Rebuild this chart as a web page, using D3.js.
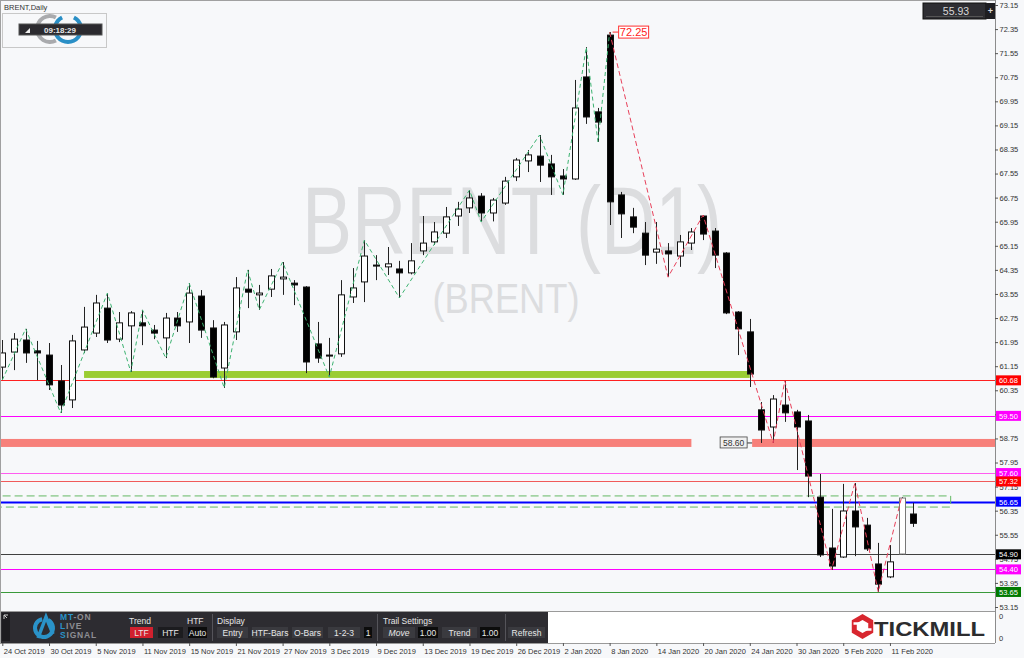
<!DOCTYPE html>
<html><head><meta charset="utf-8">
<script src="https://cdn.jsdelivr.net/npm/d3@7/dist/d3.min.js"></script>
<style>
html,body{margin:0;padding:0;background:#f7f8fa;overflow:hidden}
svg{display:block;font-family:"Liberation Sans",Arial,sans-serif}
</style></head><body>
<svg id="c" width="1024" height="658"></svg>
<script>
// ---------------- DATA ----------------
const dates = ["2019-10-24","2019-10-25","2019-10-28","2019-10-29","2019-10-30","2019-10-31",
"2019-11-01","2019-11-04","2019-11-05","2019-11-06","2019-11-07","2019-11-08","2019-11-11","2019-11-12","2019-11-13","2019-11-14","2019-11-15","2019-11-18","2019-11-19","2019-11-20","2019-11-21","2019-11-22","2019-11-25","2019-11-26","2019-11-27","2019-11-28","2019-11-29",
"2019-12-02","2019-12-03","2019-12-04","2019-12-05","2019-12-06","2019-12-09","2019-12-10","2019-12-11","2019-12-12","2019-12-13","2019-12-16","2019-12-17","2019-12-18","2019-12-19","2019-12-20","2019-12-23","2019-12-24","2019-12-26","2019-12-27","2019-12-30","2019-12-31",
"2020-01-02","2020-01-03","2020-01-06","2020-01-07","2020-01-08","2020-01-09","2020-01-10","2020-01-13","2020-01-14","2020-01-15","2020-01-16","2020-01-17","2020-01-20","2020-01-21","2020-01-22","2020-01-23","2020-01-24","2020-01-27","2020-01-28","2020-01-29","2020-01-30","2020-01-31",
"2020-02-03","2020-02-04","2020-02-05","2020-02-06","2020-02-07","2020-02-10","2020-02-11","2020-02-12","2020-02-13"];
const open = [61.12,61.62,62.02,61.66,61.52,60.66,60.03,61.69,62.25,63.08,62.05,62.49,62.59,62.35,62.09,62.75,62.62,63.48,62.42,61.09,62.29,63.71,63.52,63.71,64.05,63.91,63.78,61.89,61.52,61.56,63.45,63.95,64.51,64.45,64.38,64.25,64.98,65.28,65.57,66.14,66.41,66.80,66.24,66.57,67.44,67.97,68.13,67.87,67.47,67.37,70.76,69.60,72.15,66.84,66.11,65.57,64.94,64.98,64.81,65.24,66.14,65.64,64.91,62.95,62.29,59.70,59.13,59.86,59.63,59.33,56.80,55.11,54.81,56.34,55.87,54.58,54.15,54.91,56.24];
const high = [62.02,62.25,62.39,61.99,61.92,61.19,62.19,63.12,63.52,63.58,62.95,62.98,63.02,62.52,62.92,62.95,63.91,63.68,62.68,62.62,64.11,64.35,63.85,64.38,64.61,64.01,63.81,62.62,62.09,64.01,64.41,65.34,64.84,65.11,64.65,65.24,66.14,65.94,66.44,66.61,67.00,66.90,66.74,67.44,68.07,68.33,68.83,68.17,67.70,70.66,71.75,69.73,72.25,66.94,66.41,65.94,65.94,65.24,65.51,65.74,66.17,65.74,64.94,62.98,62.72,59.96,60.19,60.66,59.70,59.53,57.57,56.41,57.24,57.27,56.11,55.28,55.21,56.80,56.61];
const low = [60.69,61.02,61.26,60.69,60.36,59.60,59.76,61.59,62.12,61.92,61.95,60.96,61.85,62.05,61.42,62.29,61.92,62.09,60.75,60.43,62.02,63.08,63.02,63.45,63.52,63.18,60.92,61.26,60.79,61.46,63.25,63.28,64.01,64.18,63.42,64.20,64.84,65.18,65.41,65.81,66.24,65.94,65.96,66.51,67.30,67.60,67.27,66.84,66.84,67.34,69.20,68.60,65.84,65.41,65.57,64.51,64.55,64.11,64.45,65.01,65.34,64.41,62.88,61.52,60.46,58.60,58.60,59.30,57.70,56.80,54.81,54.38,54.78,54.84,55.01,53.65,54.11,54.88,55.81];
const close = [61.59,62.05,61.59,61.59,60.53,59.86,61.99,62.45,63.25,62.02,62.59,62.92,62.49,62.25,62.75,62.49,63.58,62.35,60.79,62.52,63.75,63.61,63.58,64.15,64.11,63.85,61.29,61.42,61.49,63.52,63.75,64.81,64.48,64.55,64.25,64.65,65.24,65.61,66.11,66.37,66.74,66.24,66.67,67.30,68.00,68.17,67.83,67.44,67.37,69.73,69.43,69.26,66.61,66.21,65.77,64.84,65.04,64.88,65.28,65.61,65.54,64.84,62.92,62.39,60.89,59.03,60.06,59.60,59.13,57.50,54.88,54.51,56.34,55.81,55.08,53.91,54.65,56.77,55.93];

const priceTicks = [73.15,72.35,71.55,70.75,69.95,69.15,68.35,67.55,66.75,65.95,65.15,64.35,63.55,62.75,61.95,61.15,60.35,59.55,58.75,57.95,57.15,56.35,55.55,54.75,53.95,53.15];
const dateTickIdx = [0,4,8,12,16,20,24,28,32,36,40,44,48,52,56,60,64,68,72,76];

// zigzag vertices (bar index), alternating low/high
const zigGreen = [0,2,5,9,11,12,14,16,19,21,22,24,28,31,34,40,41,46,48,50,51,52];
const zigRed = [52,57,60,66,67,71,73,75,77];

// horizontal levels with right-axis labels
const levels = [60.68,59.50,57.60,57.32,56.65,54.90,54.40,53.65];
const greenZone = [60.76,60.99];
const greenZoneBars = [7,64];
const salmonLevel = 58.60;
const salmonBars = [-1,59,64.2,86];
const boxZone = [56.47,56.84];
const boxZoneBars = [-1,81.2];
const lastPrice = 55.93;

// ---------------- STYLE / LAYOUT ----------------
const levelStyle = {
  60.68:{line:"#ff2020",w:1,bg:"#ff0000",fg:"#fff"},
  59.50:{line:"#ff00ff",w:1,bg:"#ff00ff",fg:"#fff"},
  57.60:{line:"#ff5cf0",w:1,bg:"#ff00ff",fg:"#fff"},
  57.32:{line:"#f05a5a",w:1,bg:"#ff0000",fg:"#fff"},
  56.65:{line:"#0000ff",w:2,bg:"#0000ff",fg:"#fff"},
  54.90:{line:"#404040",w:1,bg:"#000000",fg:"#fff"},
  54.40:{line:"#ff00ff",w:1,bg:"#ff00ff",fg:"#fff"},
  53.65:{line:"#3a9a3a",w:1,bg:"#007a00",fg:"#fff"}
};
const W=1024,H=658, plotR=995, mainB=611, subB=643;

const svg = d3.select("#c");
const x = d3.scaleLinear().domain([0,78]).range([2.3,913.3]);
const y = d3.scaleLinear().domain([53.15,73.15]).range([607,5]);
const parse = d3.timeParse("%Y-%m-%d");
const fmt = d3.timeFormat("%-d %b %Y");

svg.append("rect").attr("width",W).attr("height",H).attr("fill","#f7f8fa");
svg.append("defs").append("clipPath").attr("id","clipMain")
  .append("rect").attr("x",0).attr("y",0).attr("width",plotR).attr("height",mainB);

const main = svg.append("g").attr("clip-path","url(#clipMain)");

// watermark
main.append("text").attr("x",512).attr("y",254).attr("text-anchor","middle")
  .attr("font-size",96).attr("fill","#dcdddf").attr("textLength",420).attr("lengthAdjust","spacingAndGlyphs")
  .text("BRENT (D1)");
main.append("text").attr("x",506).attr("y",313).attr("text-anchor","middle")
  .attr("font-size",42).attr("fill","#dcdddf").attr("textLength",147).attr("lengthAdjust","spacingAndGlyphs")
  .text("(BRENT)");

// zones
main.append("rect").attr("x",x(greenZoneBars[0])).attr("y",y(greenZone[1]))
  .attr("width",x(greenZoneBars[1])-x(greenZoneBars[0])).attr("height",y(greenZone[0])-y(greenZone[1]))
  .attr("fill","#9acd32");
[[salmonBars[0],salmonBars[1]],[salmonBars[2],salmonBars[3]]].forEach(s=>{
  main.append("rect").attr("x",x(s[0])).attr("y",y(salmonLevel)-4)
    .attr("width",x(s[1])-x(s[0])).attr("height",8).attr("fill","#f7807a");
});

// level lines
levels.forEach(p=>{
  const st=levelStyle[p];
  main.append("line").attr("x1",0).attr("x2",plotR).attr("y1",Math.round(y(p))+0.5).attr("y2",Math.round(y(p))+0.5)
    .attr("stroke",st.line).attr("stroke-width",st.w);
});

// dashed box zone
main.append("rect").attr("x",x(boxZoneBars[0])).attr("y",y(boxZone[1]))
  .attr("width",x(boxZoneBars[1])-x(boxZoneBars[0])).attr("height",y(boxZone[0])-y(boxZone[1]))
  .attr("fill","none").attr("stroke","#63b863").attr("stroke-width",1).attr("stroke-dasharray","8,4");

// 58.60 label
const lx = x(salmonBars[2]);
main.append("line").attr("x1",lx-5).attr("x2",lx).attr("y1",y(salmonLevel)).attr("y2",y(salmonLevel)).attr("stroke","#333");
main.append("rect").attr("x",lx-32).attr("y",y(salmonLevel)-6).attr("width",27).attr("height",11)
  .attr("fill","#f0f0f0").attr("stroke","#444").attr("stroke-width",0.8);
main.append("text").attr("x",lx-18.5).attr("y",y(salmonLevel)+3).attr("text-anchor","middle")
  .attr("font-size",8.5).attr("fill","#333").text(salmonLevel.toFixed(2));

// candles
const bw=7;
const idx = d3.range(dates.length);
const cg = main.append("g");
cg.selectAll("line.w").data(idx).join("line")
  .attr("x1",i=>Math.round(x(i))+0.5).attr("x2",i=>Math.round(x(i))+0.5)
  .attr("y1",i=>y(high[i])).attr("y2",i=>y(low[i]))
  .attr("stroke","#222").attr("stroke-width",1);
cg.selectAll("rect.b").data(idx).join("rect")
  .attr("x",i=>Math.round(x(i))-3+0.5).attr("width",bw-1)
  .attr("y",i=>y(Math.max(open[i],close[i])))
  .attr("height",i=>Math.max(1,Math.abs(y(open[i])-y(close[i]))))
  .attr("fill",i=>close[i]>=open[i]?"#ffffff":"#000000")
  .attr("stroke",(i)=>i===dates.length-2?"#777":"#111").attr("stroke-width",1);

// zigzags
function zig(verts, startLow){
  return verts.map((i,k)=>[x(i), y(((k%2===0)===startLow)?low[i]:high[i])]);
}
main.append("path").attr("d",d3.line()(zig(zigGreen,true))).attr("fill","none")
  .attr("stroke","#3cb371").attr("stroke-width",1).attr("stroke-dasharray","4,3");
main.append("path").attr("d",d3.line()(zig(zigRed,false))).attr("fill","none")
  .attr("stroke","#e8405a").attr("stroke-width",1).attr("stroke-dasharray","5,3");

// peak label
const pk = d3.maxIndex(high);
main.append("line").attr("x1",x(pk)+3).attr("x2",x(pk)+9).attr("y1",y(high[pk])).attr("y2",y(high[pk])).attr("stroke","#ff3030");
main.append("rect").attr("x",x(pk)+9).attr("y",y(high[pk])-6).attr("width",30).attr("height",12)
  .attr("fill","#fff").attr("stroke","#ff3030");
main.append("text").attr("x",x(pk)+24).attr("y",y(high[pk])+4).attr("text-anchor","middle")
  .attr("font-size",11).attr("fill","#ff2020").text(high[pk].toFixed(2));

// ---------- sub window ----------
svg.append("rect").attr("x",0).attr("y",mainB).attr("width",plotR).attr("height",subB-mainB).attr("fill","#ffffff");
svg.append("line").attr("x1",0).attr("x2",plotR).attr("y1",mainB+0.5).attr("y2",mainB+0.5).attr("stroke","#9a9a9a");
svg.append("line").attr("x1",0).attr("x2",plotR).attr("y1",subB+0.5).attr("y2",subB+0.5).attr("stroke","#9a9a9a");

// toolbar
const tb = svg.append("g");
tb.append("rect").attr("x",0).attr("y",mainB+1).attr("width",548).attr("height",subB-mainB-1).attr("fill","#2d2c31");
tb.append("rect").attr("x",2).attr("y",613).attr("width",8).attr("height",28).attr("fill","#1d1c20");
tb.append("path").attr("d","M4,619 L4,615 L8,615 M4,615 L7,618").attr("stroke","#ccc").attr("fill","none").attr("stroke-width",1);
tb.append("path").attr("d",d3.arc()({innerRadius:7,outerRadius:11,startAngle:0.5,endAngle:2*Math.PI-0.2}))
  .attr("transform","translate(44,628)").attr("fill","#2a93c9");
tb.append("path").attr("d","M38,638 L46,617 L53,634").attr("stroke","#2a93c9").attr("stroke-width",3.5).attr("fill","none");
const logoLines=[["MT","-ON",620],["L","IVE",629],["S","IGNAL",638]];
logoLines.forEach(l=>{
  const t=tb.append("text").attr("x",60).attr("y",l[2]).attr("font-size",8.5).attr("font-weight","bold").attr("letter-spacing",0.8);
  t.append("tspan").attr("fill","#2a93c9").text(l[0]);
  t.append("tspan").attr("fill","#8e8e93").text(l[1]);
});
const tbLabels=[["Trend",129],["HTF",187],["Display",217],["Trail Settings",383]];
tbLabels.forEach(l=>tb.append("text").attr("x",l[1]).attr("y",623.5).attr("font-size",8.5).attr("fill","#e6e6e6").text(l[0]));
const btns=[["LTF",130,23,"#d0202e"],["HTF",158,25,"#1c1c1f"],["Auto",188,19,"#0c0c0c"],
["Entry",217,31,"#3a3a3f"],["HTF-Bars",252,36,"#3a3a3f"],["O-Bars",292,31,"#3a3a3f"],["1-2-3",328,32,"#3a3a3f"],["1",364,8,"#0c0c0c"],
["Move",383,32,"#3a3a3f"],["1.00",418,20,"#0c0c0c"],["Trend",442,35,"#3a3a3f"],["1.00",480,20,"#0c0c0c"],["Refresh",508,37,"#3a3a3f"]];
btns.forEach(b=>{
  tb.append("rect").attr("x",b[1]).attr("y",627).attr("width",b[2]).attr("height",11).attr("fill",b[3]);
  tb.append("text").attr("x",b[1]+b[2]/2).attr("y",635.5).attr("text-anchor","middle").attr("font-size",8.5)
    .attr("fill","#e8e8e8").attr("font-style",b[0]==="Move"?"italic":"normal").text(b[0]);
});
[212,377,505].forEach(sx=>tb.append("line").attr("x1",sx+0.5).attr("x2",sx+0.5).attr("y1",614).attr("y2",641).attr("stroke","#55545a"));

// Tickmill logo
const tk = svg.append("g").attr("transform","translate(862.5,626.5)");
const hex = d3.range(6).map(k=>{const a=Math.PI/6+k*Math.PI/3;return [9.5*Math.cos(a),9.5*Math.sin(a)];});
tk.append("path").attr("d",d3.line()(hex)+"Z").attr("fill","none").attr("stroke","#d8262f").attr("stroke-width",5);
tk.append("path").attr("d","M-9,-3 L-2,-3 M9,3 L2,3").attr("stroke","#fff").attr("stroke-width",2.5);
svg.append("text").attr("x",874).attr("y",636).attr("font-size",21).attr("font-weight","bold").attr("fill","#2c2c2e")
  .attr("textLength",111).attr("lengthAdjust","spacingAndGlyphs").text("TICKMILL");

// ---------- axes ----------
svg.append("line").attr("x1",plotR+0.5).attr("x2",plotR+0.5).attr("y1",0).attr("y2",subB).attr("stroke","#8c8c8c");
svg.append("line").attr("x1",0).attr("x2",plotR).attr("y1",0.5).attr("y2",0.5).attr("stroke","#a0a0a0");
svg.append("line").attr("x1",0.5).attr("x2",0.5).attr("y1",0).attr("y2",subB).attr("stroke","#a0a0a0");

const ya = svg.append("g").attr("transform",`translate(${plotR},0)`)
  .call(d3.axisRight(y).tickValues(priceTicks).tickSize(3).tickFormat(d3.format(".2f")));
ya.select(".domain").remove();
ya.selectAll("line").attr("stroke","#555");
ya.selectAll("text").attr("font-size",7.5).attr("fill","#333").attr("x",4.5).attr("font-family","Liberation Sans, Arial");

[616,638].forEach(yy=>svg.append("text").attr("x",999).attr("y",yy+3).attr("font-size",7.5).attr("fill","#333").text("0"));

// level labels on axis
levels.forEach(p=>{
  const st=levelStyle[p];
  svg.append("rect").attr("x",plotR+1).attr("y",y(p)-5).attr("width",25).attr("height",10).attr("fill",st.bg);
  svg.append("text").attr("x",plotR+13.5).attr("y",y(p)+3).attr("text-anchor","middle").attr("font-size",7.5)
    .attr("fill",st.fg).text(p.toFixed(2));
});

const xa = svg.append("g").attr("transform",`translate(0,${subB})`)
  .call(d3.axisBottom(x).tickValues(dateTickIdx).tickSize(3).tickFormat(i=>fmt(parse(dates[i]))));
xa.select(".domain").remove();
xa.selectAll("line").attr("stroke","#555");
xa.selectAll("text").attr("text-anchor","start").attr("x",1).attr("font-size",7.5).attr("fill","#333").attr("font-family","Liberation Sans, Arial");

// ---------- top widgets ----------
svg.append("text").attr("x",4).attr("y",10).attr("font-size",7.5).attr("fill","#333").text("BRENT,Daily");
svg.append("rect").attr("x",2.5).attr("y",13.5).attr("width",104).attr("height",34).attr("fill","none").attr("stroke","#c8c8c8");
const ringArc = d3.arc().innerRadius(11).outerRadius(15);
svg.append("path").attr("d",ringArc({startAngle:Math.PI*0.85,endAngle:Math.PI*2.15})).attr("transform","translate(50,29)").attr("fill","#a9aaad");
svg.append("path").attr("d",ringArc({startAngle:-Math.PI*0.85,endAngle:Math.PI*0.85})).attr("transform","translate(68,29) rotate(180)").attr("fill","#2a8fc6");
svg.append("rect").attr("x",19).attr("y",24).attr("width",83).attr("height",11).attr("fill","#2b2a2f").attr("stroke","#555");
svg.append("path").attr("d","M25,33 L30,33 L30,28 Z").attr("fill","#eee");
svg.append("text").attr("x",60).attr("y",32.5).attr("text-anchor","middle").attr("font-size",8).attr("font-weight","bold")
  .attr("fill","#e8e8e8").text("09:18:29");

// last price box
svg.append("rect").attr("x",923).attr("y",3).attr("width",63).attr("height",16).attr("fill","#2e2e33").attr("stroke","#111");
svg.append("line").attr("x1",926).attr("x2",983).attr("y1",16.5).attr("y2",16.5).attr("stroke","#555");
svg.append("text").attr("x",956).attr("y",14.5).attr("text-anchor","middle").attr("font-size",10.5).attr("fill","#d8d8d8").text(lastPrice.toFixed(2));
svg.append("rect").attr("x",986).attr("y",3).attr("width",9).attr("height",16).attr("fill","#1e1e22");
svg.append("text").attr("x",990.5).attr("y",14).attr("text-anchor","middle").attr("font-size",9).attr("font-weight","bold").attr("fill","#ddd").text("+");
</script>
</body></html>
